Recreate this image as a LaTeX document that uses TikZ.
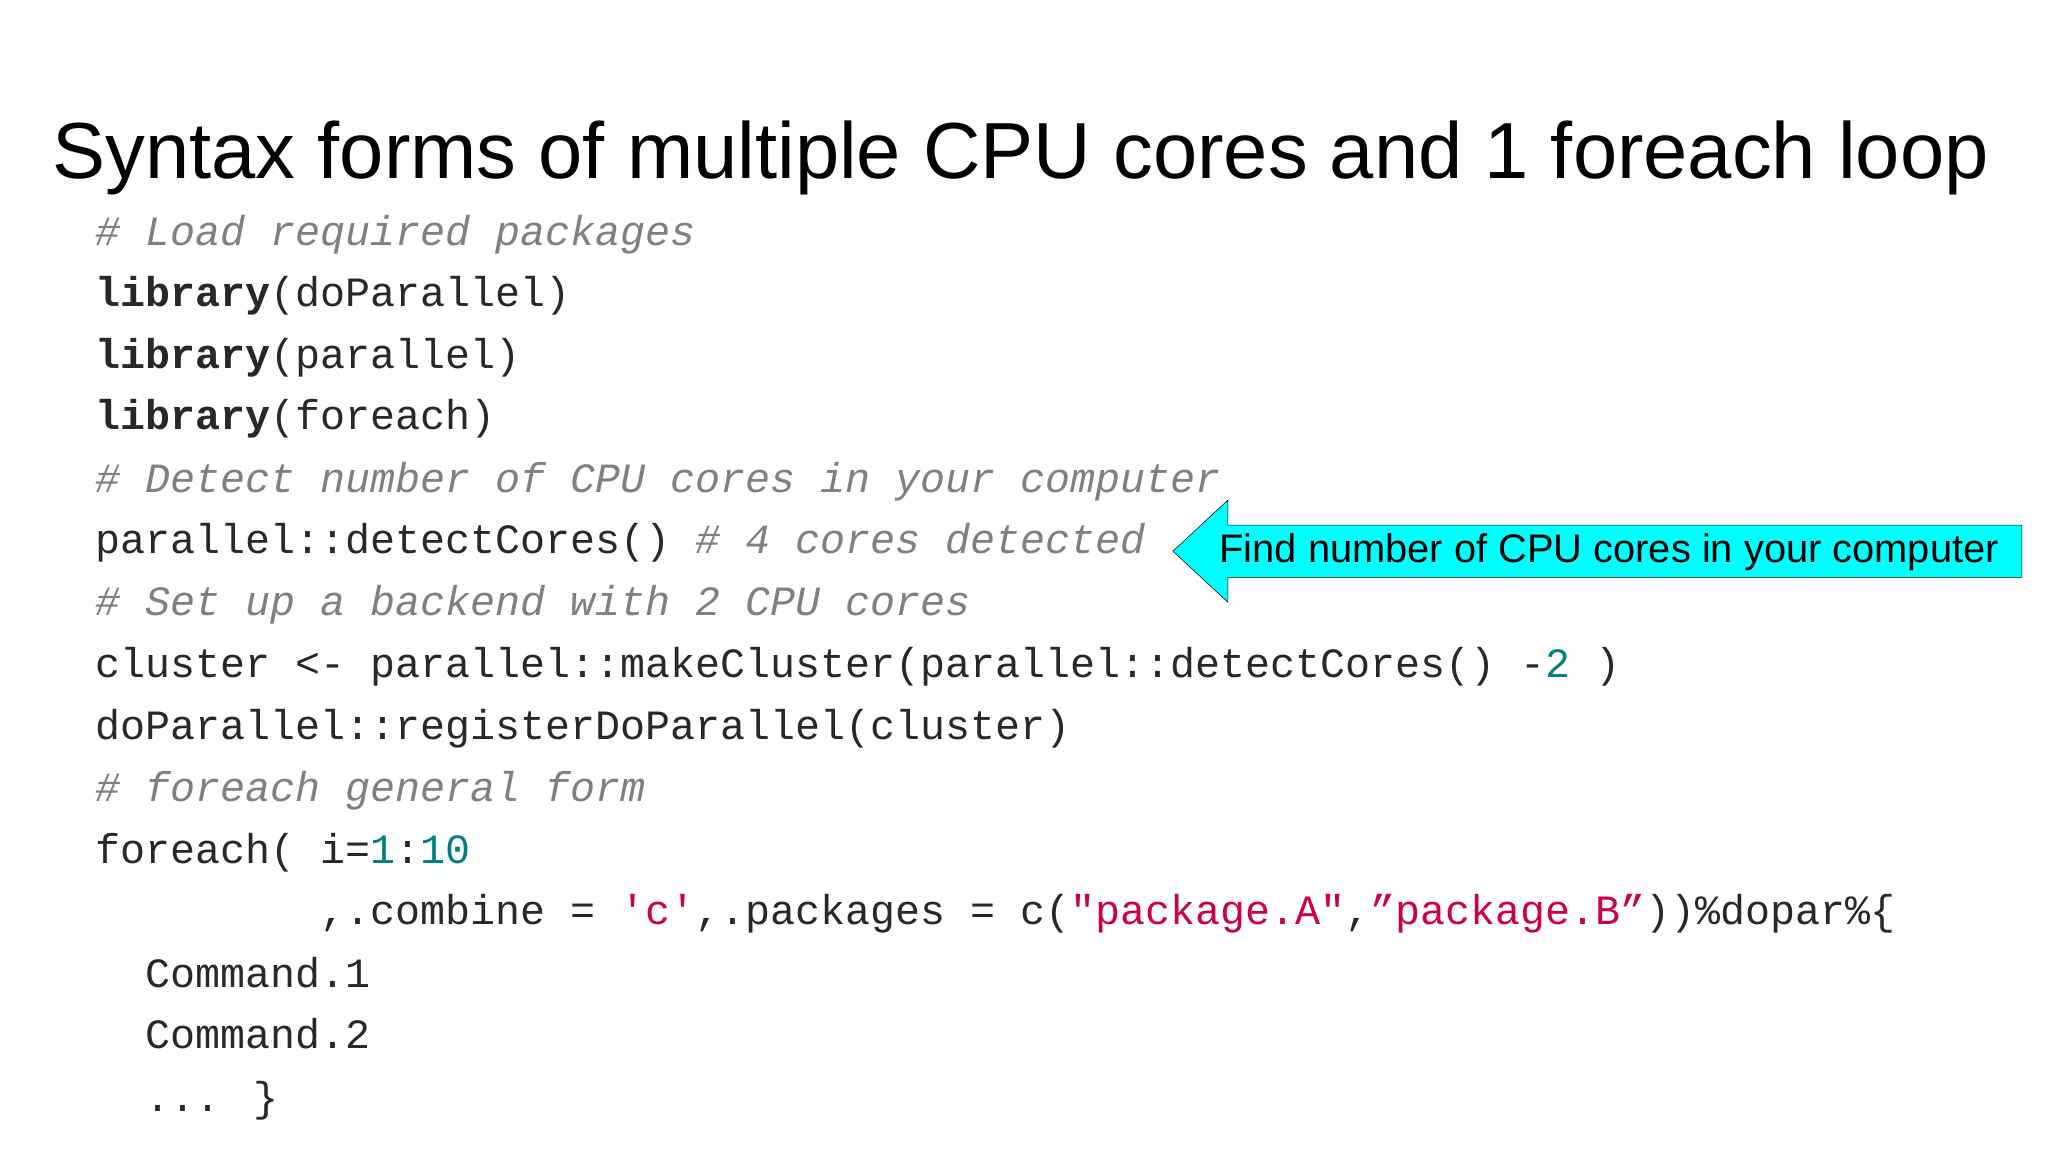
\documentclass[tikz,border=0pt]{standalone}
\usepackage{fontspec}
\setmainfont{Liberation Sans}
\newfontfamily\codef{Liberation Mono}
\definecolor{cmt}{RGB}{128,128,128}
\definecolor{num}{RGB}{0,128,128}
\definecolor{str}{RGB}{204,0,68}
\definecolor{txt}{RGB}{40,40,40}
\definecolor{callc}{RGB}{0,255,255}
\tikzset{code/.style={anchor=base west,inner sep=0pt,font=\codef\fontsize{31.9}{36}\selectfont,text=txt},
comline/.style={code,text=cmt,font=\codef\itshape\fontsize{31.9}{36}\selectfont}}
\newcommand{\nm}[1]{\textcolor{num}{#1}}
\newcommand{\st}[1]{\textcolor{str}{#1}}
\begin{document}
\begin{tikzpicture}[x=1pt,y=-1pt]
\useasboundingbox[fill=white] (0,0) rectangle (1568,882);
\node[anchor=base west,inner sep=0pt,font=\fontsize{60.9}{70}\selectfont] (title) at (40,137) {Syntax forms of multiple CPU cores and 1 foreach loop};
\node[comline] (l1) at (73,188) {\# Load required packages};
\node[code] (l2) at (73,235) {\textbf{library}(doParallel)};
\node[code] (l3) at (73,282) {\textbf{library}(parallel)};
\node[code] (l4) at (73,329) {\textbf{library}(foreach)};
\node[comline] (l5) at (73,377) {\# Detect number of CPU cores in your computer};
\node[code] (l6) at (73,424) {parallel::detectCores() \textcolor{cmt}{\itshape\# 4 cores detected}};
\node[comline] (l7) at (73,471) {\# Set up a backend with 2 CPU cores};
\node[code] (l8) at (73,519) {cluster <- parallel::makeCluster(parallel::detectCores() -\nm{2} )};
\node[code] (l9) at (73,566) {doParallel::registerDoParallel(cluster)};
\node[comline] (l10) at (73,614) {\# foreach general form};
\node[code] (l11) at (73,661) {foreach( i=\nm{1}:\nm{10}};
\node[code] (l12) at (73,708) {\hspace*{9\fontcharwd\font`0},.combine = \st{'c'},.packages = c(\st{"package.A"},\st{”package.B”}))\%dopar\%\{};
\node[code] (l13) at (111,756) {Command.1};
\node[code] (l14) at (111,803) {Command.2};
\node[code] (l15) at (111,851) {... \}};
\draw[black,fill=callc] (898,422) -- (940,383) -- (940,402) -- (1548,402) -- (1548,442) -- (940,442) -- (940,461) -- cycle;
\node[font=\fontsize{30.5}{34}\selectfont,inner sep=0pt] (call) at (1232,423) {Find number of CPU cores in your computer};
\end{tikzpicture}
\end{document}
